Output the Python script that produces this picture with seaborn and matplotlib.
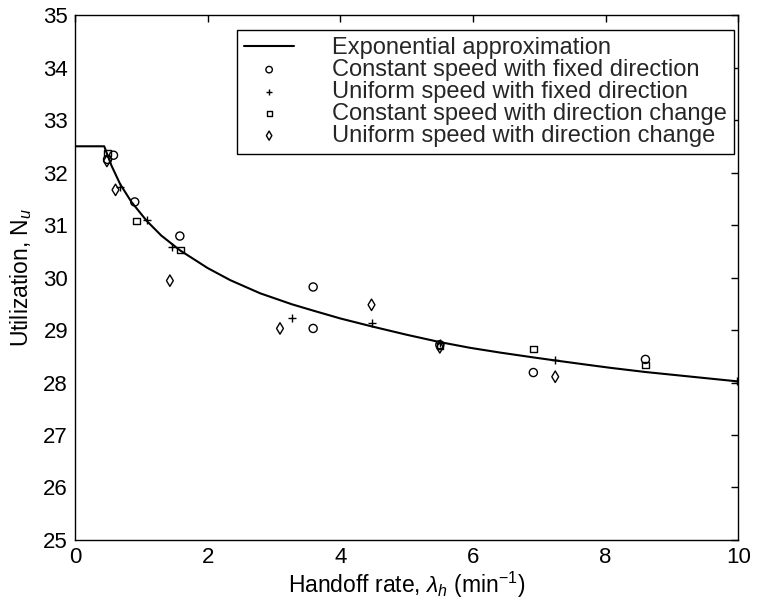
import matplotlib
matplotlib.use("Agg")
import matplotlib.pyplot as plt
import seaborn as sns
import pandas as pd

# Exponential approximation of utilization vs handoff rate
curve_x = [0, 0.44, 0.55, 0.68, 0.85, 1.08, 1.3, 1.58, 2.0, 2.34, 2.79, 3.27,
           3.59, 4.0, 4.47, 5.0, 5.5, 5.96, 6.41, 6.9, 7.24, 7.77, 8.07, 8.6,
           9.3, 10.0]
curve_y = [32.5, 32.5, 32.13, 31.78, 31.44, 31.08, 30.8, 30.52, 30.18, 29.95,
           29.7, 29.49, 29.37, 29.22, 29.07, 28.91, 28.77, 28.66, 28.57, 28.48,
           28.42, 28.33, 28.28, 28.2, 28.11, 28.02]

# Simulation results
const_fixed_x = [0.49, 0.58, 0.90, 1.58, 3.59, 3.59, 5.5, 6.91, 8.6]
const_fixed_y = [32.25, 32.33, 31.44, 30.79, 29.03, 29.82, 28.72, 28.19, 28.44]

unif_fixed_x = [0.68, 1.08, 1.46, 3.27, 4.47, 5.5, 7.24, 9.98]
unif_fixed_y = [31.73, 31.10, 30.58, 29.22, 29.14, 28.76, 28.42, 28.02]

const_change_x = [0.49, 0.93, 1.59, 5.5, 6.91, 8.6]
const_change_y = [32.37, 31.08, 30.52, 28.70, 28.64, 28.33]

unif_change_x = [0.48, 0.61, 1.43, 3.09, 4.47, 5.5, 7.24]
unif_change_y = [32.22, 31.67, 29.94, 29.03, 29.48, 28.67, 28.11]

x_ticks = [0, 2, 4, 6, 8, 10]
y_ticks = [25, 26, 27, 28, 29, 30, 31, 32, 33, 34, 35]

sns.set_theme(style="white")
plt.rcParams["font.family"] = ["Liberation Sans", "DejaVu Sans"]
plt.rcParams["mathtext.fontset"] = "custom"
plt.rcParams["mathtext.rm"] = "Liberation Sans"
plt.rcParams["mathtext.it"] = "Liberation Sans:italic"

fig = plt.figure(figsize=(7.58, 6.02), dpi=100)
ax = fig.add_axes([0.099, 0.103, 0.875, 0.872])

sns.lineplot(x=curve_x, y=curve_y, ax=ax, color="black", linewidth=1.5,
             sort=False, label="Exponential approximation")

series = [
    (const_fixed_x, const_fixed_y, "o", 34, "Constant speed with fixed direction"),
    (unif_fixed_x, unif_fixed_y, "+", 30, "Uniform speed with fixed direction"),
    (const_change_x, const_change_y, "s", 22, "Constant speed with direction change"),
    (unif_change_x, unif_change_y, "d", 34, "Uniform speed with direction change"),
]
for xs, ys, mk, size, name in series:
    df = pd.DataFrame({"x": xs, "y": ys})
    if mk == "+":
        sns.scatterplot(data=df, x="x", y="y", ax=ax, marker=mk, s=size,
                        color="black", linewidth=1.0, label=name)
    else:
        sns.scatterplot(data=df, x="x", y="y", ax=ax, marker=mk, s=size,
                        facecolors="none", edgecolor="black", linewidth=1.0,
                        label=name)

ax.set_xlim(0, 10)
ax.set_ylim(25, 35)
ax.set_xticks(x_ticks)
ax.set_yticks(y_ticks)
ax.tick_params(direction="in", length=5, width=1, colors="black",
               labelsize=16, top=True, right=True, pad=5)
for sp in ax.spines.values():
    sp.set_visible(True)
    sp.set_color("black")
    sp.set_linewidth(1.0)

ax.set_xlabel(r"Handoff rate, $\lambda_h$ (min$^{-1}$)", fontsize=16.5,
              color="black", labelpad=1)
ax.set_ylabel(r"Utilization, N$_u$", fontsize=16.5, color="black", labelpad=7)

leg = ax.legend(loc="upper right", bbox_to_anchor=(0.993, 0.972), fontsize=17,
                frameon=True, fancybox=False, edgecolor="black",
                framealpha=1, handlelength=2.1, handletextpad=1.6,
                labelspacing=0.0, borderpad=0.3, borderaxespad=0,
                markerscale=0.8)
leg.get_frame().set_linewidth(1.0)

fig.savefig("out.png", dpi=100)
